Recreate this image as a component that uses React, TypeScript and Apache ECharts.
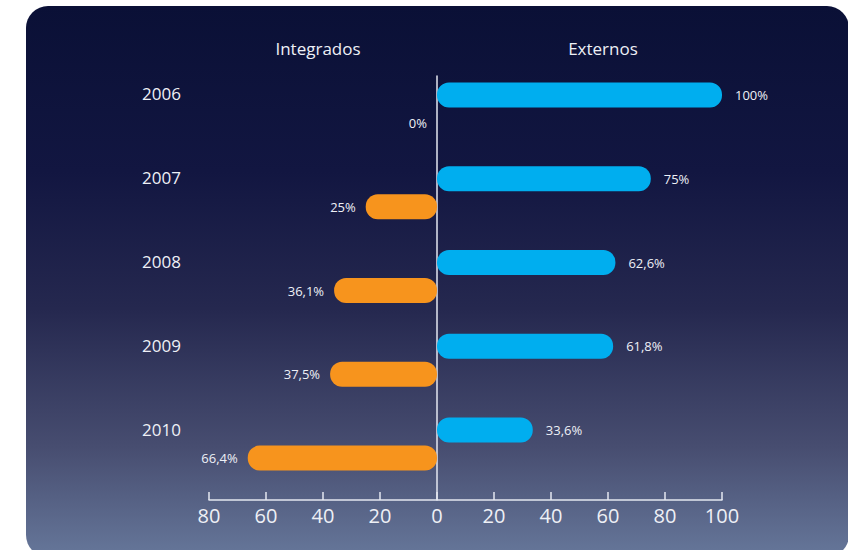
import React, { useEffect, useRef } from "react";
import * as echarts from "echarts";

const years = ["2006", "2007", "2008", "2009", "2010"];
const externos = [100, 75, 62.6, 61.8, 33.6];
const integrados = [0, 25, 36.1, 37.5, 66.4];
const headers = ["Integrados", "Externos"];

const FONT = "'Open Sans', 'Noto Sans', sans-serif";
const fmt = (v: number) => String(Math.abs(v)).replace(".", ",") + "%";

export default function App() {
  const ref = useRef<HTMLDivElement>(null);
  useEffect(() => {
    if (!ref.current) return;
    const chart = echarts.init(ref.current, undefined, { renderer: "svg" });
    chart.setOption({
      animation: false,
      backgroundColor: "#ffffff",
      textStyle: { fontFamily: FONT },
      graphic: [
        {
          type: "rect",
          z: -10,
          shape: { x: 26, y: 6, width: 823, height: 551, r: 22 },
          style: {
            fill: new echarts.graphic.LinearGradient(0, 0, 0, 1, [
              { offset: 0, color: "#0a1036" },
              { offset: 0.3, color: "#121641" },
              { offset: 0.55, color: "#25284f" },
              { offset: 0.8, color: "#474d70" },
              { offset: 1, color: "#66779a" },
            ]),
          },
        },
        {
          type: "text",
          x: 318,
          y: 48,
          style: { text: headers[0], fill: "#eef0f6", font: `17px ${FONT}`, align: "center", verticalAlign: "middle" },
        },
        {
          type: "text",
          x: 603,
          y: 48,
          style: { text: headers[1], fill: "#eef0f6", font: `17px ${FONT}`, align: "center", verticalAlign: "middle" },
        },
      ],
      grid: [
        { left: 209, right: 126, top: 67, bottom: 64 },
        { left: 209, right: 126, top: 76, bottom: 50 },
      ],
      xAxis: [
        {
          type: "value",
          gridIndex: 0,
          min: -80,
          max: 100,
          interval: 20,
          offset: 14,
          axisLine: { show: true, lineStyle: { color: "#e4e7f0", width: 1.5 } },
          axisTick: { show: true, inside: true, length: 8, lineStyle: { color: "#e4e7f0", width: 1.5 } },
          axisLabel: {
            color: "#eef0f6",
            fontSize: 20,
            fontFamily: FONT,
            margin: 5,
            formatter: (v: number) => String(Math.abs(v)),
          },
          splitLine: { show: false },
        },
        {
          type: "value",
          gridIndex: 1,
          min: -80,
          max: 100,
          show: false,
        },
      ],
      yAxis: [
        {
          type: "category",
          gridIndex: 0,
          data: years,
          inverse: true,
          axisLine: { show: false },
          axisTick: { show: false },
          axisLabel: {
            color: "#eef0f6",
            fontSize: 17,
            fontFamily: FONT,
            margin: 28,
            verticalAlign: "bottom",
            lineHeight: 30,
          },
        },
        {
          type: "value",
          gridIndex: 1,
          min: 0,
          max: 1,
          axisLine: { show: true, onZero: true, lineStyle: { color: "#e4e7f0", width: 1.5 } },
          axisTick: { show: false },
          axisLabel: { show: false },
          splitLine: { show: false },
        },
      ],
      series: [
        {
          name: headers[1],
          type: "bar",
          xAxisIndex: 0,
          yAxisIndex: 0,
          data: externos,
          barWidth: 25,
          barGap: "12%",
          itemStyle: { color: "#00aeef", borderRadius: 12 },
          label: {
            show: true,
            position: "right",
            distance: 13,
            color: "#eef0f6",
            fontSize: 13,
            fontFamily: FONT,
            formatter: (p: any) => fmt(p.value),
          },
        },
        {
          name: headers[0],
          type: "bar",
          xAxisIndex: 0,
          yAxisIndex: 0,
          data: integrados.map((v) => -v),
          barWidth: 25,
          barGap: "12%",
          itemStyle: { color: "#f7941d", borderRadius: 12 },
          label: {
            show: true,
            position: "left",
            distance: 10,
            color: "#eef0f6",
            fontSize: 13,
            fontFamily: FONT,
            formatter: (p: any) => fmt(p.value),
          },
        },
      ],
    });
    return () => chart.dispose();
  }, []);
  return (
    <div
      ref={ref}
      style={{ position: "absolute", left: 0, top: 0, width: 848, height: 550 }}
    />
  );
}
